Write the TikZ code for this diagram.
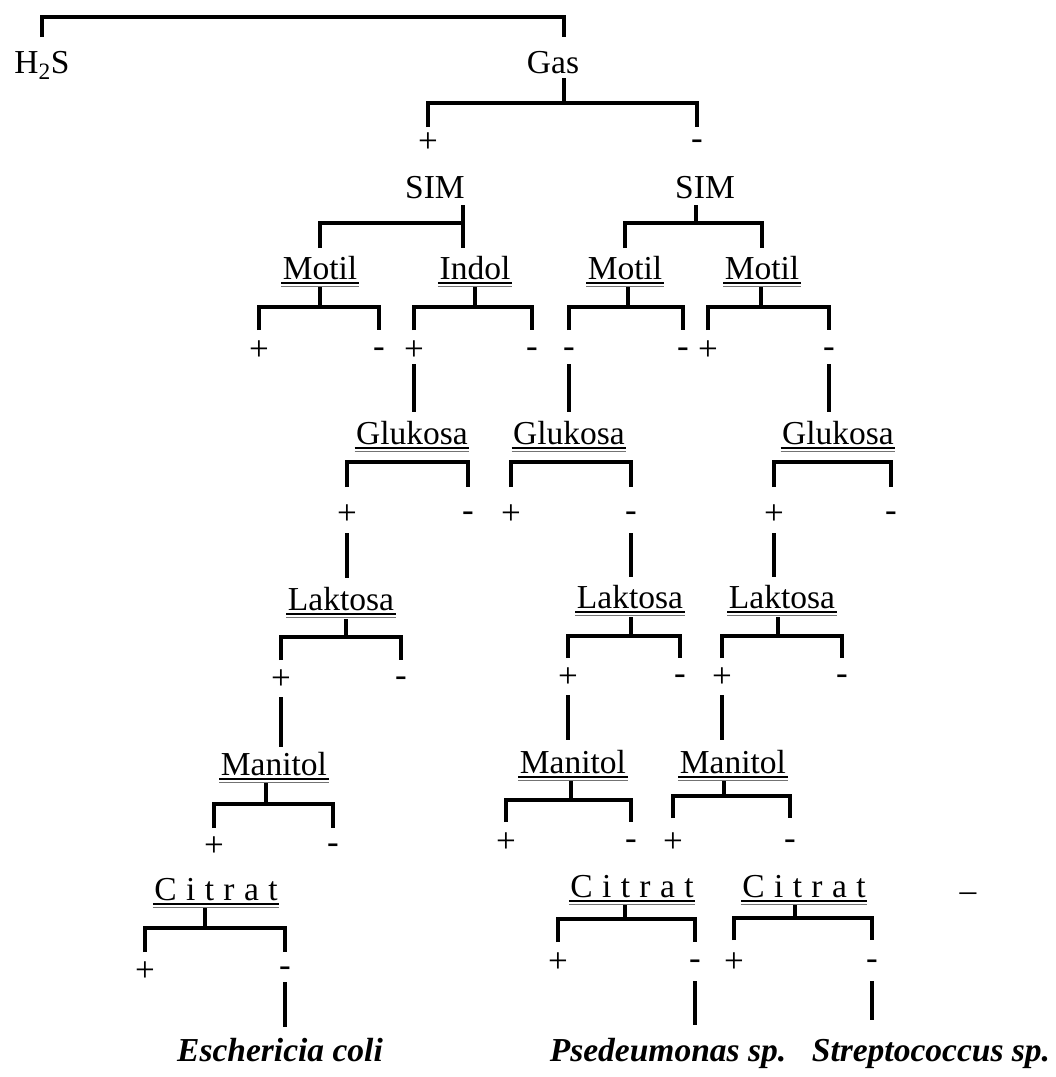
\documentclass[tikz,border=0pt]{standalone}
\usepackage{fontspec}
\setmainfont{Liberation Serif}
\newcommand\brk[6]{\draw (#1,#2) -- (#1,#3); \draw (#4 |- 0,#6) |- (#1,#3) -| (#5 |- 0,#6);}
\newcommand\brkn[4]{\draw (#2 |- 0,#4) -- (#2 |- 0,#1) -- (#3 |- 0,#1) -- (#3 |- 0,#4);}
\newcommand\dul[1]{\draw[line width=1.8pt] ([yshift=-4pt]#1.base west) -- ([yshift=-4pt]#1.base east);
  \draw[line width=1pt, black!55] ([yshift=-7.5pt]#1.base west) -- ([yshift=-7.5pt]#1.base east);}
\newcommand\vln[3]{\draw (#1 |- 0,#2) -- (#1 |- 0,#3);}
\begin{document}
\begin{tikzpicture}[x=1pt,y=-1pt, line width=3.3pt,
  lab/.style={anchor=base, inner sep=0pt, font=\fontsize{33.5}{40}\selectfont},
  sgn/.style={anchor=center, inner sep=0pt, font=\fontsize{35}{40}\selectfont},
  spc/.style={anchor=base, inner sep=0pt, font=\fontsize{33.5}{40}\selectfont\bfseries\itshape},
  cit/.style={anchor=base, inner sep=0pt, font=\fontsize{33.5}{40}\selectfont\addfontfeature{LetterSpace=28}}]
\fill[white] (0,0) rectangle (1056,1077);
\useasboundingbox (0,0) rectangle (1056,1077);
% level 0
\node[lab] (h2s) at (42,73) {H\textsubscript{2}S};
\node[lab] (gas) at (553,73) {Gas};
\node[sgn] (gp) at (428,143) {+};
\node[sgn] (gm) at (697,145) {-};
\node[lab] (simL) at (435,198) {SIM};
\node[lab] (simR) at (705,198) {SIM};
% level 2
\node[lab] (mo1) at (320,279) {Motil};
\node[lab] (ind) at (475,279) {Indol};
\node[lab] (mo2) at (625,279) {Motil};
\node[lab] (mo3) at (762,279) {Motil};
\node[sgn] (mo1p) at (259,351) {+};
\node[sgn] (mo1m) at (379,353) {-};
\node[sgn] (indp) at (414,351) {+};
\node[sgn] (indm) at (532,353) {-};
\node[sgn] (mo2a) at (569,353) {-};
\node[sgn] (mo2m) at (683,353) {-};
\node[sgn] (mo3p) at (708,351) {+};
\node[sgn] (mo3m) at (829,353) {-};
% level 3
\node[lab] (glL) at (412,444) {Glukosa};
\node[lab] (glM) at (569,444) {Glukosa};
\node[lab] (glR) at (838,444) {Glukosa};
\node[sgn] (glLp) at (347,515) {+};
\node[sgn] (glLm) at (468,517) {-};
\node[sgn] (glMp) at (511,515) {+};
\node[sgn] (glMm) at (631,517) {-};
\node[sgn] (glRp) at (774,515) {+};
\node[sgn] (glRm) at (891,517) {-};
% level 4
\node[lab] (lkL) at (341,610) {Laktosa};
\node[lab] (lkM) at (630,608) {Laktosa};
\node[lab] (lkR) at (782,608) {Laktosa};
\node[sgn] (lkLp) at (281,680) {+};
\node[sgn] (lkLm) at (401,682) {-};
\node[sgn] (lkMp) at (568,678) {+};
\node[sgn] (lkMm) at (680,680) {-};
\node[sgn] (lkRp) at (722,678) {+};
\node[sgn] (lkRm) at (842,680) {-};
% level 5
\node[lab] (mnL) at (274,775) {Manitol};
\node[lab] (mnM) at (573,773) {Manitol};
\node[lab] (mnR) at (733,773) {Manitol};
\node[sgn] (mnLp) at (214,847) {+};
\node[sgn] (mnLm) at (333,849) {-};
\node[sgn] (mnMp) at (506,843) {+};
\node[sgn] (mnMm) at (631,845) {-};
\node[sgn] (mnRp) at (673,843) {+};
\node[sgn] (mnRm) at (790,845) {-};
% level 6
\node[cit] (ctL) at (216,900) {Citrat};
\node[cit] (ctM) at (632,897) {Citrat};
\node[cit] (ctR) at (804,897) {Citrat};
\node[sgn] (ctLp) at (145,972) {+};
\node[sgn] (ctLm) at (285,972) {-};
\node[sgn] (ctMp) at (558,963) {+};
\node[sgn] (ctMm) at (695,965) {-};
\node[sgn] (ctRp) at (734,963) {+};
\node[sgn] (ctRm) at (872,965) {-};
\node[lab] (dash) at (968,901) {–};
% species
\node[spc] (ecoli) at (280,1061) {Eschericia coli};
\node[spc] (pseu) at (668,1061) {Psedeumonas sp.};
\node[spc] (strep) at (931,1061) {Streptococcus sp.};
% underlines
\dul{mo1}\dul{ind}\dul{mo2}\dul{mo3}
\dul{glL}\dul{glM}\dul{glR}
\dul{lkL}\dul{lkM}\dul{lkR}
\dul{mnL}\dul{mnM}\dul{mnR}
\dul{ctL}\dul{ctM}\dul{ctR}
% brackets
\draw (h2s |- 0,37) |- (564,17) -- (564,37);
\brk{564}{78}{103}{gp}{gm}{127}
\draw (463,205) -- (463,248);
\draw (mo1 |- 0,248) |- (463,223);
\brk{696}{205}{223}{mo2}{mo3}{248}
\brk{320}{287}{307}{mo1p}{mo1m}{330}
\brk{475}{287}{307}{indp}{indm}{330}
\brk{628}{287}{307}{mo2a}{mo2m}{330}
\brk{761}{287}{307}{mo3p}{mo3m}{330}
\brkn{462}{glLp}{glLm}{487}
\brkn{462}{glMp}{glMm}{487}
\brkn{462}{glRp}{glRm}{487}
\brk{346}{619}{637}{lkLp}{lkLm}{660}
\brk{631}{617}{636}{lkMp}{lkMm}{658}
\brk{778}{617}{636}{lkRp}{lkRm}{658}
\brk{266}{783}{804}{mnLp}{mnLm}{828}
\brk{571}{781}{800}{mnMp}{mnMm}{822}
\brk{724}{781}{796}{mnRp}{mnRm}{818}
\brk{205}{908}{928}{ctLp}{ctLm}{952}
\brk{625}{905}{919}{ctMp}{ctMm}{942}
\brk{795}{905}{918}{ctRp}{ctRm}{940}
% connectors from signs to next tests
\vln{indp}{364}{412}
\vln{mo2a}{364}{412}
\vln{mo3m}{364}{412}
\vln{glLp}{533}{578}
\vln{glMm}{533}{577}
\vln{glRp}{533}{577}
\vln{lkLp}{697}{747}
\vln{lkMp}{695}{740}
\vln{lkRp}{695}{740}
\vln{ctLm}{982}{1027}
\vln{ctMm}{981}{1025}
\vln{ctRm}{981}{1020}
\end{tikzpicture}
\end{document}
